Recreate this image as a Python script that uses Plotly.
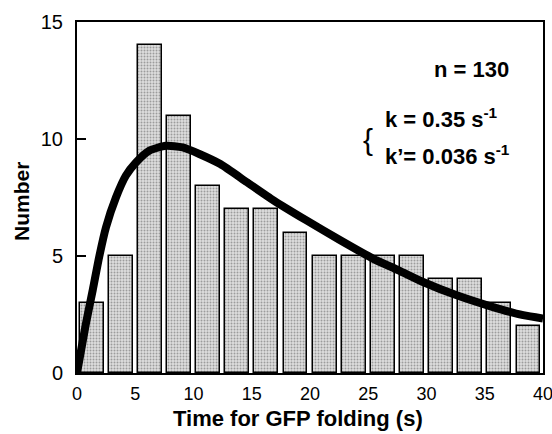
import plotly.graph_objects as go

# Histogram data
bin_centers = [1.25, 3.75, 6.25, 8.75, 11.25, 13.75, 16.25, 18.75,
               21.25, 23.75, 26.25, 28.75, 31.25, 33.75, 36.25, 38.75]
counts = [3, 5, 14, 11, 8, 7, 7, 6, 5, 5, 5, 5, 4, 4, 3, 2]

# Fitted curve
fit_t = [0, 0.2, 0.77, 1.35, 1.92, 2.49, 3.35, 4.2, 5.06, 6.2, 7.64, 9.07,
         10.5, 12.3, 14.6, 16.9, 19.7, 22.6, 25.4, 27.6, 29.7, 32.6, 35.5,
         38.3, 40]
fit_v = [0, 0.55, 2.12, 3.54, 5.0, 6.23, 7.51, 8.44, 9.0, 9.5, 9.71, 9.64,
         9.36, 8.93, 8.15, 7.37, 6.52, 5.67, 4.89, 4.39, 3.89, 3.32, 2.85,
         2.47, 2.33]

x_ticks = [0, 5, 10, 15, 20, 25, 30, 35, 40]
y_ticks = [0, 5, 10, 15]

FONT = "Liberation Sans, Arial, sans-serif"
L, R, T, B = 77, 543, 22, 373
W, H = 552, 434

def px(xp):
    return (xp - L) / (R - L)

def py(yp):
    return (B - yp) / (B - T)

fig = go.Figure()
fig.add_trace(go.Bar(
    x=bin_centers, y=counts, width=2.05,
    marker=dict(color="#c8c8c8",
                line=dict(color="black", width=1.5),
                pattern=dict(shape=".", fgcolor="#5a5a5a", bgcolor="#dedede",
                             size=3, solidity=0.35)),
    showlegend=False,
))
fig.add_trace(go.Scatter(
    x=fit_t, y=fit_v, mode="lines",
    line=dict(color="black", width=8, shape="spline", smoothing=0.6),
    showlegend=False,
))

fig.update_layout(
    width=W, height=H,
    margin=dict(l=L, r=W - R, t=T, b=H - B, autoexpand=False),
    paper_bgcolor="white", plot_bgcolor="white",
    font=dict(family=FONT, color="black"),
    bargap=0,
)
fig.update_xaxes(
    range=[0, 40], tickvals=x_ticks, ticktext=[str(v) for v in x_ticks],
    showgrid=False, zeroline=False, automargin=False,
    showline=True, linecolor="black", linewidth=2, mirror=True,
    ticks="", tickfont=dict(size=18, family=FONT), ticklabelstandoff=3,
    ticklabeloverflow="allow",
)
fig.update_yaxes(
    range=[0, 15], tickvals=y_ticks, ticktext=[str(v) for v in y_ticks],
    showgrid=False, zeroline=False, automargin=False,
    showline=True, linecolor="black", linewidth=2, mirror=True,
    ticks="inside", ticklen=9, tickwidth=1.5, tickcolor="black",
    tickfont=dict(size=20, family=FONT), ticklabelstandoff=8,
    ticklabeloverflow="allow",
)

# Axis titles
fig.add_annotation(xref="paper", yref="paper", x=px(298), y=py(418),
                   xanchor="center", yanchor="middle", showarrow=False,
                   text="<b>Time for GFP folding (s)</b>", font=dict(size=22, family=FONT))
fig.add_annotation(xref="paper", yref="paper", x=px(22), y=py(202),
                   xanchor="center", yanchor="middle", showarrow=False, textangle=-90,
                   text="<b>Number</b>", font=dict(size=21, family=FONT))

# In-plot labels
fig.add_annotation(xref="paper", yref="paper", x=px(511), y=py(70),
                   xanchor="right", yanchor="middle", showarrow=False,
                   text="<b>n = 130</b>", font=dict(size=22, family=FONT))
fig.add_annotation(xref="paper", yref="paper", x=px(383), y=py(118),
                   xanchor="left", yanchor="middle", showarrow=False,
                   text="<b>k = 0.35 s<sup>-1</sup></b>", font=dict(size=22, family=FONT))
fig.add_annotation(xref="paper", yref="paper", x=px(383), y=py(155),
                   xanchor="left", yanchor="middle", showarrow=False,
                   text="<b>k’= 0.036 s<sup>-1</sup></b>", font=dict(size=22, family=FONT))
fig.add_annotation(xref="paper", yref="paper", x=px(368), y=py(139),
                   xanchor="center", yanchor="middle", showarrow=False,
                   text="{", font=dict(size=30, family=FONT))

fig.write_html("out.html", config={"displayModeBar": False},
               post_script="document.body.style.margin='0';document.body.style.padding='0';")
